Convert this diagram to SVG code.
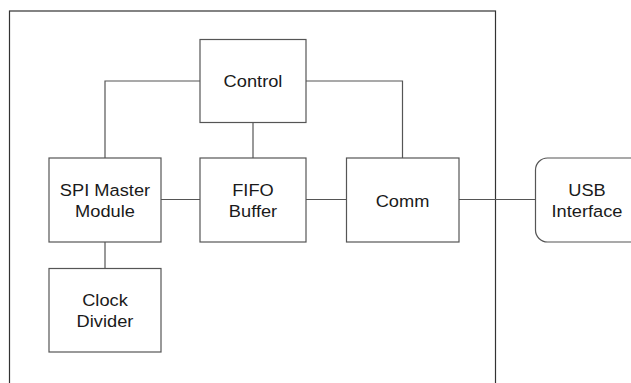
<svg xmlns="http://www.w3.org/2000/svg" width="631" height="383" viewBox="0 0 631 383">
<style>
.box{fill:#fff;stroke:#555;stroke-width:1.2}
.outer{fill:none;stroke:#333;stroke-width:1.2}
.wire{fill:none;stroke:#555;stroke-width:1.2}
text{font-family:"Liberation Sans",Arial,sans-serif;font-size:16.3px;fill:#1a1a1a;text-anchor:middle}
</style>
<rect x="0" y="0" width="631" height="383" fill="#fff"/>
<g id="outer"><rect class="outer" x="9.5" y="11" width="486" height="380"/></g>
<g id="connectors">
<polyline class="wire" points="200,81 105,81 105,158"/>
<polyline class="wire" points="306,81 402.5,81 402.5,158"/>
<line class="wire" x1="253" y1="122.5" x2="253" y2="158"/>
<line class="wire" x1="161" y1="199.5" x2="200" y2="199.5"/>
<line class="wire" x1="306" y1="199.5" x2="346.5" y2="199.5"/>
<line class="wire" x1="459" y1="199.5" x2="535.5" y2="199.5"/>
<line class="wire" x1="105" y1="242" x2="105" y2="268.5"/>
</g>
<g id="control"><rect class="box" x="200" y="39.5" width="106" height="83"/><text transform="translate(253,87.3) scale(1.12,1)">Control</text></g>
<g id="spi"><rect class="box" x="49" y="158" width="112" height="84"/><text transform="translate(105,195.7) scale(1.12,1)">SPI Master</text><text transform="translate(105,216.7) scale(1.12,1)">Module</text></g>
<g id="fifo"><rect class="box" x="200" y="158" width="106" height="84"/><text transform="translate(253,195.7) scale(1.12,1)">FIFO</text><text transform="translate(253,216.7) scale(1.12,1)">Buffer</text></g>
<g id="comm"><rect class="box" x="346.5" y="158" width="112.5" height="84"/><text transform="translate(402.5,206.7) scale(1.12,1)">Comm</text></g>
<g id="usb"><rect class="box" x="535.5" y="158" width="110" height="84" rx="12" ry="12"/><text transform="translate(587,195.7) scale(1.12,1)">USB</text><text transform="translate(587,216.7) scale(1.12,1)">Interface</text></g>
<g id="clock"><rect class="box" x="49" y="268.5" width="112" height="83.5"/><text transform="translate(105,305.7) scale(1.12,1)">Clock</text><text transform="translate(105,326.7) scale(1.12,1)">Divider</text></g>
</svg>
